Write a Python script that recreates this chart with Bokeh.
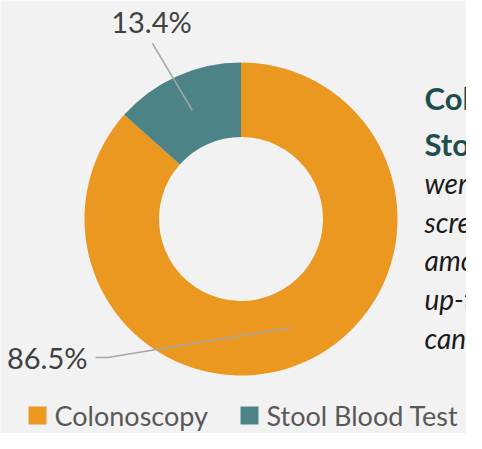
import math
from bokeh.plotting import figure
from bokeh.models import Range1d
from bokeh.core.properties import value
from bokeh.embed import file_html
from bokeh.resources import INLINE

# ---- data ----
categories = ["Colonoscopy", "Stool Blood Test"]
shares = [86.5, 13.4]
labels = ["86.5%", "13.4%"]
colors = ["#EA981F", "#4B8387"]
note_bold = ["Colonoscopy and", "Stool Blood Tests"]
note_italic = ["were the most common", "screening tests", "among adults who were",
               "up-to-date on colorectal", "cancer screening."]

BG = "#F2F2F2"
W, H = 466, 433

# data coords = picture pixels, y negated (so angles run counter-clockwise as usual)
p = figure(width=W, height=H, output_backend="svg", toolbar_location=None,
           x_range=Range1d(0, W), y_range=Range1d(-H, 0),
           x_axis_type=None, y_axis_type=None, min_border=0,
           background_fill_color=BG, border_fill_color=BG, outline_line_color=None)
p.grid.visible = False

cx, cy = 240.5, -218.5
r_in, r_out = 82, 156.5
total = sum(shares)

# Stool Blood Test runs counter-clockwise from 12 o'clock; Colonoscopy takes the rest
start = math.pi / 2
ang_stool = shares[1] / total * 2 * math.pi
wedges = {
    "Stool Blood Test": (start, start + ang_stool),
    "Colonoscopy": (start + ang_stool, start + 2 * math.pi),
}
for cat, col in zip(categories, colors):
    a0, a1 = wedges[cat]
    p.annular_wedge(x=cx, y=cy, inner_radius=r_in, outer_radius=r_out,
                    start_angle=a0, end_angle=a1, fill_color=col, line_color=None)

# leader lines + data labels
r_mid = (r_in + r_out) / 2
lab_font = value("Lato")
a0, a1 = wedges["Colonoscopy"]
am = (a0 + a1) / 2
ex, ey = cx + r_mid * math.cos(am), cy + r_mid * math.sin(am)
p.line([95, 107, ex], [-357, -357, ey], line_color="#A6A6A6", line_width=1.5)
p.text(x=[87], y=[-357], text=[labels[0]], text_align="right", text_baseline="middle",
       text_font=lab_font, text_font_size=value("29px"), text_color="#404040")

a0, a1 = wedges["Stool Blood Test"]
am = (a0 + a1) / 2
ex, ey = cx + r_mid * math.cos(am), cy + r_mid * math.sin(am)
p.line([152, ex], [-43, ey], line_color="#A6A6A6", line_width=1.5)
p.text(x=[151], y=[-21], text=[labels[1]], text_align="center", text_baseline="middle",
       text_font=lab_font, text_font_size=value("29px"), text_color="#404040")

# side note (runs off the right edge, as in the reference)
p.text(x=[424] * 2, y=[-97, -143], text=note_bold, text_baseline="middle",
       text_font=value("Lato"), text_font_style="bold", text_font_size=value("31px"),
       text_color="#1F4E4F")
p.text(x=[424] * 5, y=[-182, -221, -259, -298, -337], text=note_italic,
       text_baseline="middle", text_font=value("Lato"), text_font_style="italic",
       text_font_size=value("28px"), text_color="#1A1A1A")

# legend (manual)
leg_y = 415  # centre of squares and text
sq_x = [37, 249]
tx_x = [54, 266]
p.rect(x=sq_x, y=[-leg_y] * 2, width=18, height=18, fill_color=colors, line_color=None)
p.text(x=tx_x, y=[-leg_y] * 2, text=categories, text_baseline="middle",
       text_font=value("Lato"), text_font_size=value("27px"), text_color="#595959")

open("out.html", "w").write(file_html(p, INLINE))
